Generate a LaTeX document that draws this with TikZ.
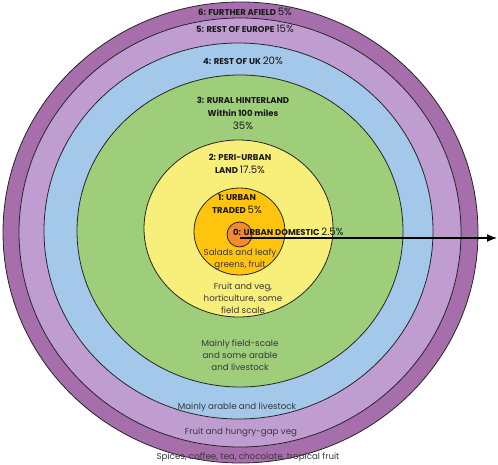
\documentclass[tikz,border=0pt]{standalone}
\usepackage{fontspec}
\setmainfont{Poppins}
\usetikzlibrary{arrows.meta}

\definecolor{afield}{RGB}{166,110,170}
\definecolor{europe}{RGB}{192,157,209}
\definecolor{restuk}{RGB}{164,200,234}
\definecolor{rural}{RGB}{158,206,121}
\definecolor{periurban}{RGB}{248,238,122}
\definecolor{traded}{RGB}{255,197,14}
\definecolor{domestic}{RGB}{244,138,48}

\newcommand{\pct}[1]{{\mdseries\fontsize{10.2}{10}\selectfont #1\%}}

\begin{document}
\begin{tikzpicture}[x=1pt, y=-1pt, ring/.style={draw=black!85, line width=0.8pt}, zone/.style={font=\fontsize{8.5}{13}\selectfont\bfseries, align=center, inner sep=0pt, text=black!90}, crop/.style={font=\fontsize{8.7}{12}\selectfont, align=center, inner sep=0pt, text=black!78}]
  {
  \useasboundingbox (0,0) rectangle (498,465);

  % rings, outside in
  \filldraw[ring, fill=afield] (240.5,232.5) ellipse [x radius=237.5, y radius=230.5];
  \filldraw[ring, fill=europe] (240,232.5) ellipse [x radius=221, y radius=214.5];
  \filldraw[ring, fill=restuk] (238.5,231) ellipse [x radius=194.5, y radius=188];
  \filldraw[ring, fill=rural] (240,231) ellipse [x radius=163, y radius=156];
  \filldraw[ring, fill=periurban] (238.5,228.5) ellipse [x radius=94.5, y radius=88.5];
  \filldraw[ring, fill=traded] (239.5,231.5) ellipse [x radius=45.5, y radius=43.5];
  \filldraw[ring, fill=domestic] (239.5,234.5) ellipse [x radius=12.5, y radius=12.5];

  % zone titles
  \node[zone] (z6) at (245,12) {6: FURTHER AFIELD \pct{5}};
  \node[zone] (z5) at (245,29) {5: REST OF EUROPE \pct{15}};
  \node[zone] (z4) at (243,61) {4: REST OF UK \pct{20}};
  \node[zone] (z3) at (243,113) {3: RURAL HINTERLAND\\Within 100 miles\\\pct{35}};
  \node[zone] (z2) at (240,163.5) {2: PERI-URBAN\\LAND \pct{17.5}};
  \node[zone] (z1) at (237,203.5) {1: URBAN\\TRADED \pct{5}};
  \node[zone, anchor=west] (z0) at (233,232) {0: URBAN DOMESTIC \pct{2.5}};

  % what is grown
  \node[crop] (c1) at (240,259.5) {Salads and leafy\\greens, fruit};
  \node[crop] (c2) at (243,298) {Fruit and veg,\\horticulture, some\\field scale};
  \node[crop] (c3) at (240,355) {Mainly field-scale\\and some arable\\and livestock};
  \node[crop] (c4) at (237,407) {Mainly arable and livestock};
  \node[crop] (c5) at (241,432) {Fruit and hungry-gap veg};
  \node[crop] (c6) at (248,457) {Spices, coffee, tea, chocolate, tropical fruit};

  \coordinate (centre) at (240,238);
  \coordinate (far) at (497,238);
  \draw[-{Latex[length=10pt, width=8pt]}, line width=1.3pt] (centre) -- (far);
}
\end{tikzpicture}
\end{document}
